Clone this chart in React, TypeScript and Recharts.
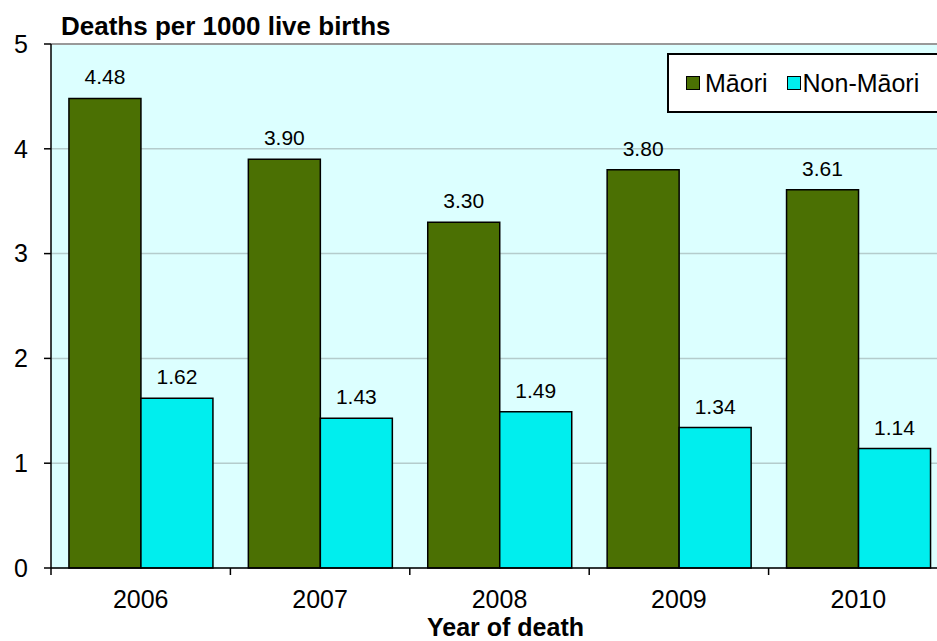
import React from "react";
import {
  BarChart,
  Bar,
  XAxis,
  YAxis,
  CartesianGrid,
  LabelList,
  ReferenceLine,
  Label,
} from "recharts";

const years = ["2006", "2007", "2008", "2009", "2010"];
const maori = [4.48, 3.9, 3.3, 3.8, 3.61];
const nonMaori = [1.62, 1.43, 1.49, 1.34, 1.14];
const yTicks = [0, 1, 2, 3, 4, 5];

const data = years.map((year, i) => ({
  year,
  maori: maori[i],
  nonMaori: nonMaori[i],
}));

const FONT = '"Liberation Sans", Arial, sans-serif';
const GREEN = "#4b7003";
const CYAN = "#00eeee";
const TICK_MARGIN = 22;

const series = [
  { key: "maori", name: "Māori", color: GREEN },
  { key: "nonMaori", name: "Non-Māori", color: CYAN },
];

const fmt = (v: any) => Number(v).toFixed(2);

// category label plus tick marks on the category boundaries
const YearTick = (props: any) => {
  const { x, y, payload, index } = props;
  const half = payload.offset || 0;
  const axisY = y - TICK_MARGIN;
  const last = index === years.length - 1;
  return (
    <g>
      <line x1={x - half} x2={x - half} y1={axisY} y2={axisY + 7} stroke="#000" strokeWidth={1.5} />
      {last && <line x1={x + half} x2={x + half} y1={axisY} y2={axisY + 7} stroke="#000" strokeWidth={1.5} />}
      <text x={x} y={y} dy="0.71em" textAnchor="middle" fill="#000" fontSize={25} fontFamily={FONT}>
        {payload.value}
      </text>
    </g>
  );
};

const LegendBox = () => (
  <div
    style={{
      position: "absolute",
      left: 667,
      top: 53,
      border: "2px solid #000",
      background: "#fff",
      height: 60,
      width: 300,
      boxSizing: "border-box",
      display: "flex",
      alignItems: "center",
      paddingLeft: 17,
      fontFamily: FONT,
      fontSize: 25,
      color: "#000",
    }}
  >
    {series.map((s, i) => (
      <React.Fragment key={s.key}>
        <span
          style={{
            width: 12,
            height: 12,
            background: s.color,
            border: "1.5px solid #000",
            marginRight: i === 0 ? 5 : 2,
          }}
        />
        <span style={{ marginRight: i === 0 ? 19 : 0 }}>{s.name}</span>
      </React.Fragment>
    ))}
  </div>
);

export default function App() {
  return (
    <div
      style={{
        position: "fixed",
        left: 0,
        top: 0,
        width: 937,
        height: 641,
        overflow: "hidden",
        background: "#fff",
        fontFamily: FONT,
      }}
    >
      <div
        style={{
          position: "absolute",
          left: 61,
          top: 13,
          fontSize: 26,
          fontWeight: "bold",
          lineHeight: "27px",
          whiteSpace: "nowrap",
        }}
      >
        Deaths per 1000 live births
      </div>
      <BarChart
        width={960}
        height={641}
        data={data}
        margin={{ top: 44, right: 12, bottom: 5, left: 0 }}
        barCategoryGap="10%"
        barGap={0}
      >
        <CartesianGrid vertical={false} stroke="#b4cccc" fill="#dcffff" strokeWidth={1.5} />
        <ReferenceLine y={5} stroke="#999" strokeWidth={2} />
        <XAxis
          dataKey="year"
          height={68}
          tickLine={false}
          tickSize={0}
          tickMargin={TICK_MARGIN}
          axisLine={{ stroke: "#000", strokeWidth: 1.5 }}
          tick={<YearTick />}
          interval={0}
        >
          <Label
            value="Year of death"
            position="insideBottom"
            offset={0}
            dx={6}
            style={{ fill: "#000", fontSize: 25, fontWeight: "bold", fontFamily: FONT }}
          />
        </XAxis>
        <YAxis
          width={51}
          domain={[0, 5]}
          ticks={yTicks}
          tickSize={7}
          tickMargin={16}
          axisLine={{ stroke: "#000", strokeWidth: 1.5 }}
          tickLine={{ stroke: "#000", strokeWidth: 1.5 }}
          tick={{ fill: "#000", fontSize: 25, fontFamily: FONT }}
        />
        {series.map((s) => (
          <Bar
            key={s.key}
            dataKey={s.key}
            name={s.name}
            fill={s.color}
            stroke="#000"
            strokeWidth={1.5}
            isAnimationActive={false}
          >
            <LabelList
              dataKey={s.key}
              position="top"
              offset={14}
              formatter={fmt}
              style={{ fill: "#000", fontSize: 21, fontFamily: FONT }}
            />
          </Bar>
        ))}
      </BarChart>
      <LegendBox />
    </div>
  );
}
